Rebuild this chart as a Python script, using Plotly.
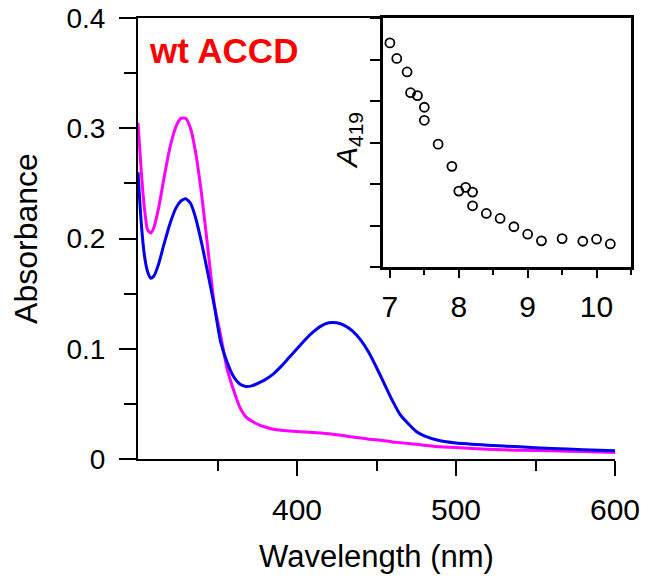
import plotly.graph_objects as go

# ---- data ----
wavelength = [300, 302, 304, 306, 308, 310, 313, 316, 320, 324, 327, 330, 333, 336, 340,
              344, 348, 352, 356, 360, 364, 368, 372, 376, 380, 385, 390, 395, 400, 405,
              410, 415, 420, 425, 430, 435, 440, 445, 450, 455, 460, 465, 470, 475, 480,
              490, 500, 520, 540, 560, 580, 600]
abs_magenta = [0.305, 0.262, 0.228, 0.208, 0.205, 0.210, 0.228, 0.252, 0.282, 0.302, 0.309,
               0.309, 0.300, 0.280, 0.240, 0.190, 0.140, 0.112, 0.082, 0.063, 0.047, 0.038,
               0.034, 0.031, 0.029, 0.027, 0.026, 0.0255, 0.025, 0.0245, 0.024, 0.0235,
               0.023, 0.022, 0.021, 0.020, 0.019, 0.018, 0.0175, 0.0165, 0.0155, 0.0148,
               0.014, 0.0133, 0.0125, 0.011, 0.0105, 0.0088, 0.008, 0.0074, 0.0067, 0.006]
abs_blue = [0.260, 0.215, 0.185, 0.170, 0.164, 0.166, 0.177, 0.193, 0.213, 0.228, 0.234,
            0.236, 0.232, 0.220, 0.196, 0.168, 0.139, 0.106, 0.088, 0.075, 0.068, 0.0657,
            0.0665, 0.069, 0.072, 0.077, 0.084, 0.092, 0.100, 0.108, 0.115, 0.1205, 0.1235,
            0.1235, 0.121, 0.116, 0.108, 0.097, 0.083, 0.068, 0.053, 0.040, 0.032, 0.025,
            0.021, 0.0165, 0.0145, 0.0125, 0.011, 0.0095, 0.0085, 0.0075]

pH = [7.0, 7.1, 7.25, 7.3, 7.4, 7.5, 7.5, 7.7, 7.9, 8.0, 8.1, 8.2, 8.2, 8.4, 8.6, 8.8,
      9.0, 9.2, 9.5, 9.8, 10.0, 10.2]
a419 = [0.108, 0.1005, 0.094, 0.084, 0.0826, 0.077, 0.0707, 0.0592, 0.0485, 0.0366,
        0.0384, 0.0361, 0.0295, 0.0258, 0.0234, 0.0194, 0.0158, 0.0126, 0.0137, 0.0124,
        0.0134, 0.0111]

main_yticks = [0, 0.1, 0.2, 0.3, 0.4]
main_yticktext = ["0", "0.1", "0.2", "0.3", "0.4"]
main_xticks = [400, 500, 600]
main_xticktext = ["400", "500", "600"]
inset_xticks = [7, 8, 9, 10]
inset_xticktext = ["7", "8", "9", "10"]

FONT = "Liberation Sans, Arial, sans-serif"

fig = go.Figure()
fig.add_trace(go.Scatter(x=wavelength, y=abs_magenta, mode="lines",
                         line=dict(color="#ff00ff", width=3, shape="spline", smoothing=0.6),
                         showlegend=False, xaxis="x", yaxis="y"))
fig.add_trace(go.Scatter(x=wavelength, y=abs_blue, mode="lines",
                         line=dict(color="#0000ee", width=3, shape="spline", smoothing=0.6),
                         showlegend=False, xaxis="x", yaxis="y"))
fig.add_trace(go.Scatter(x=pH, y=a419, mode="markers",
                         marker=dict(symbol="circle-open", size=9, color="black",
                                     line=dict(width=1.8, color="black")),
                         showlegend=False, xaxis="x2", yaxis="y2"))

OFF = 8  # page body offset
W, H = 663, 583
# target screen positions of the main plot area
X0, X1, Y0, Y1 = 138, 631, 18, 459
L = X0 - OFF
T = Y0 - OFF
pw = X1 - X0
ph = Y1 - Y0
R = W - L - pw
B = H - T - ph
main_right = (615 - X0) / pw
inset_left = (383 - X0) / pw
inset_bottom = (Y1 - 267) / ph

def px2paper(px, py):
    return (px - X0) / pw, (Y1 - py) / ph

ax_wt, ay_wt = px2paper(223, 50)
ax_a, ay_a = px2paper(348, 141)

fig.update_layout(
    template="none",
    width=W, height=H,
    margin=dict(l=L, r=R, t=T, b=B, autoexpand=False),
    paper_bgcolor="white", plot_bgcolor="white",
    font=dict(family=FONT, color="black", size=30),
    xaxis=dict(domain=[0, main_right], range=[300, 600], showgrid=False, zeroline=False,
               automargin=False, ticklabeloverflow="allow",
               showline=True, linecolor="black", linewidth=2, mirror=True,
               ticks="outside", ticklen=15, tickwidth=2, tickcolor="black",
               tickvals=main_xticks, ticktext=main_xticktext,
               tickfont=dict(size=30), ticklabelstandoff=8,
               minor=dict(tickvals=[350, 450, 550], ticks="outside", ticklen=10,
                          tickwidth=2, tickcolor="black"),
               title=dict(text="Wavelength (nm)", font=dict(size=31), standoff=20)),
    yaxis=dict(domain=[0, 1], range=[0, 0.4], showgrid=False, zeroline=False,
               automargin=False, ticklabeloverflow="allow",
               showline=True, linecolor="black", linewidth=2, mirror=False,
               ticks="outside", ticklen=17, tickwidth=2, tickcolor="black",
               tickvals=main_yticks, ticktext=main_yticktext,
               tickfont=dict(size=28), ticklabelstandoff=8,
               minor=dict(tickvals=[0.05, 0.15, 0.25, 0.35], ticks="outside", ticklen=12,
                          tickwidth=2, tickcolor="black"),
               title=dict(text="Absorbance", font=dict(size=32), standoff=26)),
    xaxis2=dict(domain=[inset_left, 1], anchor="y2", range=[6.9, 10.5], showgrid=False,
                automargin=False, ticklabeloverflow="allow",
                zeroline=False, showline=True, linecolor="black", linewidth=2.5, mirror=True,
                ticks="outside", ticklen=8, tickwidth=2, tickcolor="black",
                tickvals=inset_xticks, ticktext=inset_xticktext,
                tickfont=dict(size=30), ticklabelstandoff=3,
                minor=dict(tickvals=[7.5, 8.5, 9.5, 10.5], ticks="outside", ticklen=5,
                           tickwidth=2, tickcolor="black")),
    yaxis2=dict(domain=[inset_bottom, 1], anchor="x2", range=[0, 0.12], showgrid=False,
                automargin=False,
                zeroline=False, showline=True, linecolor="black", linewidth=2.5, mirror=True,
                ticks="outside", ticklen=10, tickwidth=2, tickcolor="black",
                dtick=0.02, tick0=0, showticklabels=False),
    annotations=[
        dict(text="<b>wt ACCD</b>", x=ax_wt, y=ay_wt, xref="paper", yref="paper",
             showarrow=False, font=dict(size=35, color="#ff0000", family=FONT),
             xanchor="center", yanchor="middle"),
        dict(text="<i>A</i><sub>419</sub>", x=ax_a, y=ay_a, xref="paper", yref="paper",
             showarrow=False, textangle=-90,
             font=dict(size=30, color="black", family=FONT),
             xanchor="center", yanchor="middle"),
    ],
)

fig.write_html("out.html")
